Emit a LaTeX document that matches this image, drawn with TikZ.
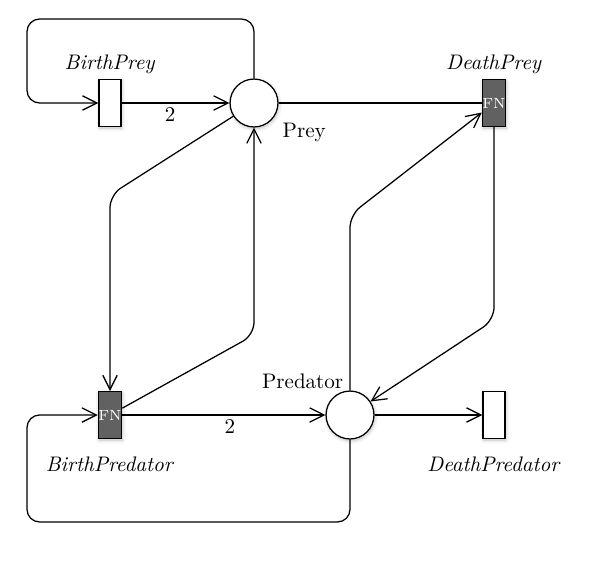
\documentclass[tikz,border=0pt]{standalone}
\usepackage{tikz}
\usetikzlibrary{arrows.meta,positioning,shadows.blur}
\tikzset{
  place/.style={circle,draw=black,fill=white,line width=0.6pt,minimum size=0.8cm,inner sep=0pt,
    blur shadow={shadow blur steps=6,shadow xshift=0.4pt,shadow yshift=-0.8pt,shadow opacity=25}},
  transition/.style={rectangle,draw=black,fill=white,line width=0.6pt,minimum width=0.37cm,
    minimum height=0.78cm,inner sep=0pt,
    blur shadow={shadow blur steps=6,shadow xshift=0.4pt,shadow yshift=-0.8pt,shadow opacity=25}},
  fntransition/.style={transition,fill=black!62,text=white,font=\scriptsize},
  arc/.style={-{Straight Barb[length=2.4mm,width=2.4mm]},line width=0.6pt,rounded corners=6pt},
  plainarc/.style={line width=0.6pt,rounded corners=6pt}
}

\begin{document}
\begin{tikzpicture}[x=0.0167cm,y=-0.0167cm]
  \useasboundingbox (0,0) rectangle (604,565);
  % places and transitions
  \node[place,label={[anchor=north west]-30:Prey}] (prey) at (254,103) {};
  \node[place,label={[anchor=south east,inner sep=1pt]100:Predator}] (predator) at (350,415) {};
  \node[transition,label={[label distance=-1pt]above:\textit{BirthPrey}}] (birthprey) at (110,103) {};
  \node[fntransition,label={[label distance=-1pt]above:\textit{DeathPrey}}] (deathprey) at (494,103) {FN};
  \node[fntransition,label={[label distance=5pt]below:\textit{BirthPredator}}] (birthpredator) at (110,415) {FN};
  \node[transition,label={[label distance=5pt]below:\textit{DeathPredator}}] (deathpredator) at (494,415) {};
  % bend points
  \coordinate (preyloop1) at (254,19);
  \coordinate (preyloop2) at (27,19);
  \coordinate (preyloop3) at (27,103);
  \coordinate (predloop1) at (350,522);
  \coordinate (predloop2) at (27,522);
  \coordinate (predloop3) at (27,415);
  \coordinate (bendA) at (110,195);
  \coordinate (bendB) at (254,335);
  \coordinate (bendC) at (350,215);
  \coordinate (bendD) at (494,320);
  % arcs
  \draw[arc] (prey.north) -- (preyloop1) -- (preyloop2) -- (preyloop3) -- (birthprey.west);
  \draw[arc] (birthprey) -- node[below,pos=0.45,inner sep=2pt] {2} (prey);
  \draw[plainarc] (prey) -- (deathprey);
  \draw[arc] (prey) -- (bendA) -- (birthpredator.north);
  \draw[arc] (birthpredator) -- (bendB) -- (prey.south);
  \draw[arc] (predator.north) -- (bendC) -- (deathprey);
  \draw[arc] (deathprey.south) -- (bendD) -- (predator);
  \draw[arc] (birthpredator) -- node[below,pos=0.53,inner sep=2pt] {2} (predator);
  \draw[arc] (predator.south) -- (predloop1) -- (predloop2) -- (predloop3) -- (birthpredator.west);
  \draw[arc] (predator) -- (deathpredator);
\end{tikzpicture}
\end{document}
